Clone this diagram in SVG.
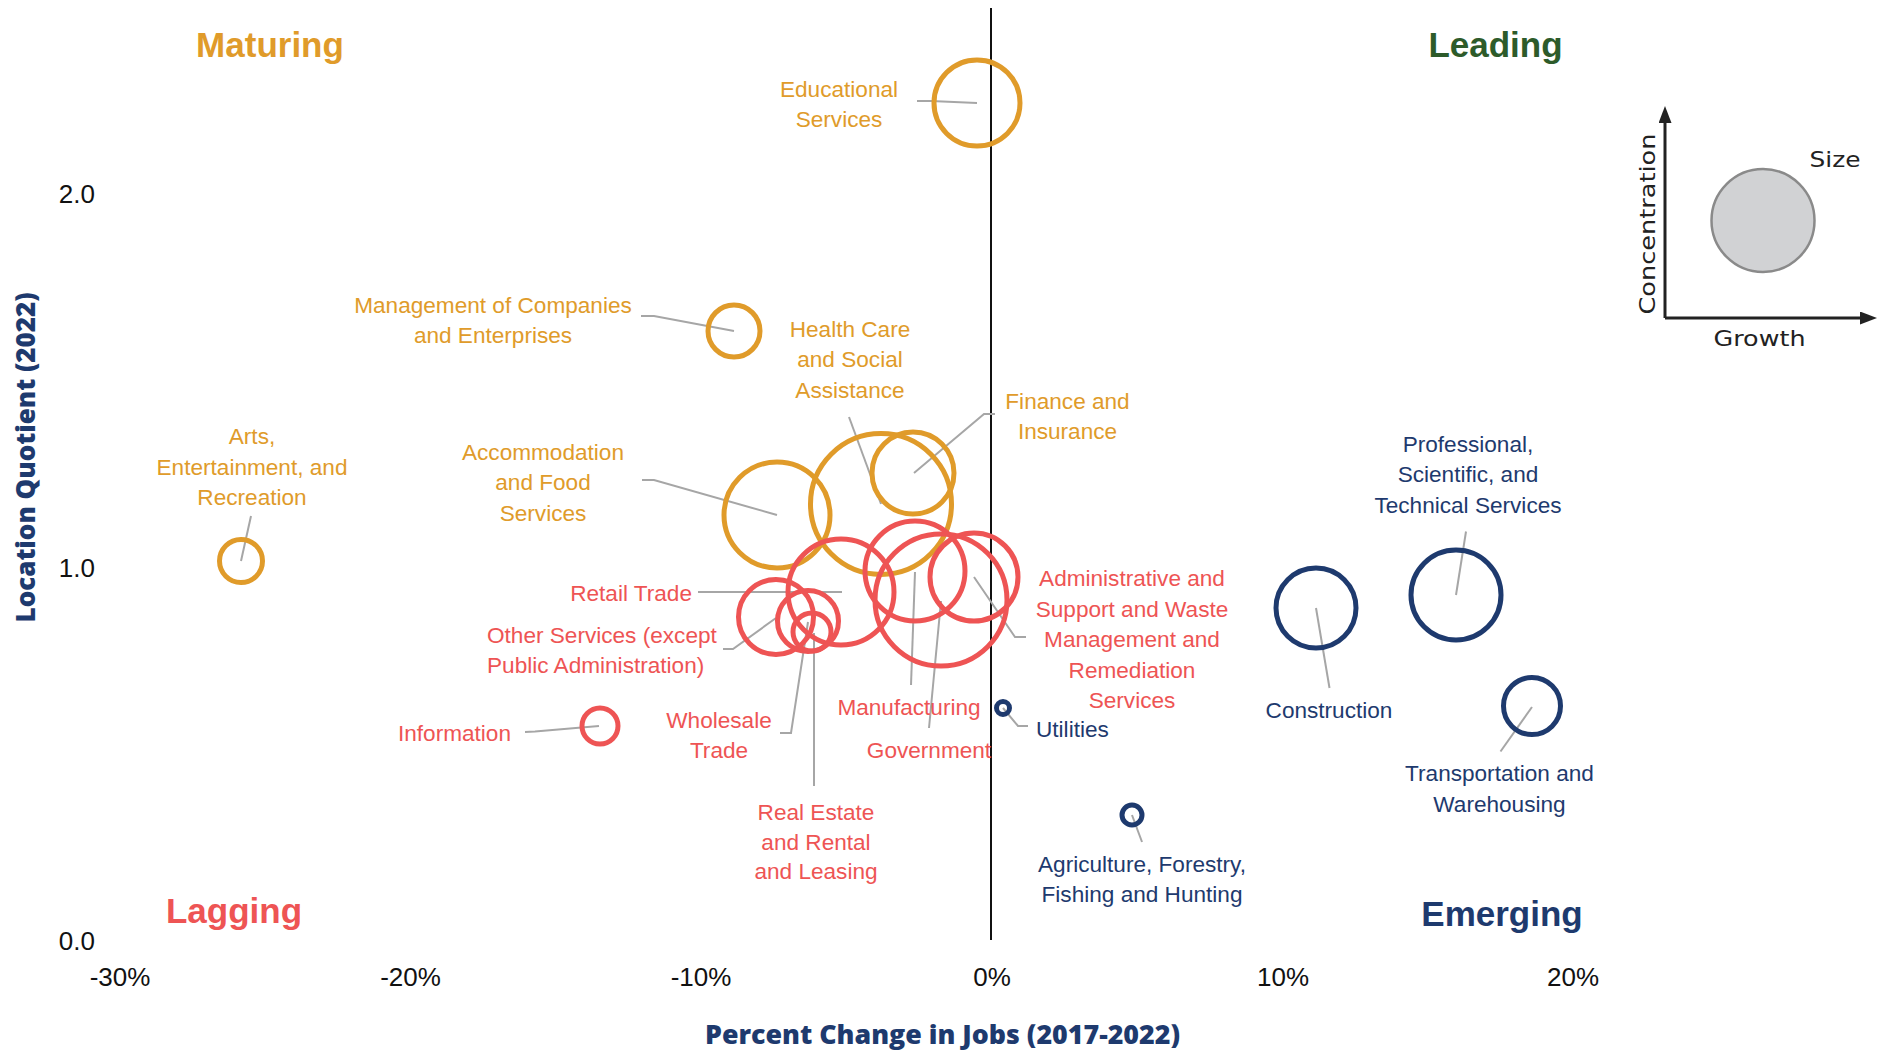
<svg xmlns="http://www.w3.org/2000/svg" width="1885" height="1050" viewBox="0 0 1885 1050">
<style>
.lbl{font-family:"Liberation Sans",Arial,sans-serif;font-size:22.6px}
.o{fill:#E09B2A}.r{fill:#EE5454}.b{fill:#1E3A6E}.g{fill:#2D5B2A}
.bub{fill:none;stroke-width:5}
.so{stroke:#E09B2A}.sr{stroke:#EE5454}.sb{stroke:#1E3A6E}
.lead{fill:none;stroke:#A6A6A6;stroke-width:2}
.quad{font-family:"Liberation Sans",Arial,sans-serif;font-size:35px;font-weight:bold}
.tick{font-family:"Liberation Sans",Arial,sans-serif;font-size:26px;fill:#111}
.atitle{font-family:"Open Sans","DejaVu Sans",sans-serif;font-weight:800;font-size:26px;fill:#1E3A6E}
.leg{font-family:"DejaVu Sans","Liberation Sans",sans-serif;font-size:22px;fill:#222}
</style>
<defs>
<marker id="ah" markerUnits="userSpaceOnUse" viewBox="0 0 17 13" markerWidth="17" markerHeight="13" refX="0" refY="6.5" orient="auto">
<path d="M0,0 L17,6.5 L0,13 z" fill="#222"/>
</marker>
</defs>
<rect width="1885" height="1050" fill="#fff"/>

<g id="axes">
<line x1="991" y1="8" x2="991" y2="940" stroke="#111" stroke-width="2"/>
<text class="tick" text-anchor="end" x="95" y="203">2.0</text>
<text class="tick" text-anchor="end" x="95" y="576.5">1.0</text>
<text class="tick" text-anchor="end" x="95" y="949.5">0.0</text>
<text class="tick" text-anchor="middle" x="120" y="986">-30%</text>
<text class="tick" text-anchor="middle" x="410.5" y="986">-20%</text>
<text class="tick" text-anchor="middle" x="701" y="986">-10%</text>
<text class="tick" text-anchor="middle" x="992" y="986">0%</text>
<text class="tick" text-anchor="middle" x="1283" y="986">10%</text>
<text class="tick" text-anchor="middle" x="1573" y="986">20%</text>
<text class="atitle" x="705" y="1044" textLength="475" lengthAdjust="spacingAndGlyphs">Percent Change in Jobs (2017-2022)</text>
<text class="atitle" transform="translate(35,622.5) rotate(-90)" x="0" y="0" textLength="330" lengthAdjust="spacingAndGlyphs">Location Quotient (2022)</text>
</g>

<g id="quadrants">
<text class="quad o" text-anchor="middle" x="270" y="57">Maturing</text>
<text class="quad g" text-anchor="middle" x="1495.5" y="57">Leading</text>
<text class="quad r" text-anchor="middle" x="234" y="923">Lagging</text>
<text class="quad b" text-anchor="middle" x="1502" y="925.5">Emerging</text>
</g>

<g id="legend">
<line x1="1665" y1="318" x2="1665" y2="123" stroke="#222" stroke-width="3" marker-end="url(#ah)"/>
<line x1="1665" y1="318" x2="1860" y2="318" stroke="#222" stroke-width="3" marker-end="url(#ah)"/>
<circle cx="1763" cy="220.5" r="51.5" fill="#D1D2D4" stroke="#8A8A8A" stroke-width="2.5"/>
<text class="leg" x="1809.5" y="167" textLength="51" lengthAdjust="spacingAndGlyphs">Size</text>
<text class="leg" x="1713.5" y="345.5" textLength="92" lengthAdjust="spacingAndGlyphs">Growth</text>
<text class="leg" transform="translate(1654.5,314.5) rotate(-90)" x="0" y="0" textLength="181" lengthAdjust="spacingAndGlyphs">Concentration</text>
</g>

<g id="connectors">
<polyline class="lead" points="917,101 931,101 977,103"/>
<polyline class="lead" points="641,316 654,316 734,331"/>
<polyline class="lead" points="642,480 654,480 777,515"/>
<line class="lead" x1="251" y1="516" x2="241" y2="561"/>
<line class="lead" x1="849" y1="417" x2="881" y2="504"/>
<polyline class="lead" points="995,414 984,414 914,473"/>
<line class="lead" x1="698" y1="592" x2="842" y2="592"/>
<polyline class="lead" points="723,649 733,649 776,618"/>
<polyline class="lead" points="525,732 535,731.5 599,726"/>
<polyline class="lead" points="780,733 791,733 808,622"/>
<line class="lead" x1="814" y1="786" x2="814" y2="633"/>
<line class="lead" x1="915" y1="572" x2="911" y2="685"/>
<line class="lead" x1="941" y1="601" x2="929" y2="728"/>
<polyline class="lead" points="974,577 1015,637 1026,637"/>
<polyline class="lead" points="1003,708 1018,726 1028,726"/>
<line class="lead" x1="1132" y1="815" x2="1142" y2="842"/>
<line class="lead" x1="1316" y1="608" x2="1329.5" y2="688"/>
<line class="lead" x1="1456" y1="595" x2="1466" y2="531.5"/>
<line class="lead" x1="1532" y1="707" x2="1500.5" y2="751.5"/>
</g>

<g id="educational-services">
<circle class="bub so" cx="977" cy="103" r="43"/>
<text class="lbl o" text-anchor="middle"><tspan x="839" y="96.5">Educational</tspan><tspan x="839" y="127">Services</tspan></text>
</g>
<g id="management-of-companies">
<circle class="bub so" cx="734" cy="331" r="26"/>
<text class="lbl o" text-anchor="middle"><tspan x="493" y="313">Management of Companies</tspan><tspan x="493" y="342.5">and Enterprises</tspan></text>
</g>
<g id="arts-entertainment">
<circle class="bub so" cx="241" cy="561" r="21.5"/>
<text class="lbl o" text-anchor="middle"><tspan x="252" y="444">Arts,</tspan><tspan x="252" y="474.5">Entertainment, and</tspan><tspan x="252" y="505">Recreation</tspan></text>
</g>
<g id="accommodation-food">
<circle class="bub so" cx="777" cy="515" r="53"/>
<text class="lbl o" text-anchor="middle"><tspan x="543" y="459.5">Accommodation</tspan><tspan x="543" y="490">and Food</tspan><tspan x="543" y="520.5">Services</tspan></text>
</g>
<g id="health-care">
<circle class="bub so" cx="881" cy="504" r="70.5"/>
<text class="lbl o" text-anchor="middle"><tspan x="850" y="337">Health Care</tspan><tspan x="850" y="367">and Social</tspan><tspan x="850" y="397.5">Assistance</tspan></text>
</g>
<g id="finance-insurance">
<circle class="bub so" cx="913" cy="473" r="41"/>
<text class="lbl o" text-anchor="middle"><tspan x="1067.5" y="408.5">Finance and</tspan><tspan x="1067.5" y="438.5">Insurance</tspan></text>
</g>
<g id="retail-trade">
<circle class="bub sr" cx="841" cy="592" r="53"/>
<text class="lbl r" text-anchor="end" x="692" y="600.5">Retail Trade</text>
</g>
<g id="other-services">
<circle class="bub sr" cx="776" cy="617" r="37.5"/>
<text class="lbl r"><tspan x="487" y="643.3">Other Services (except</tspan><tspan x="487" y="672.7">Public Administration)</tspan></text>
</g>
<g id="wholesale-trade">
<circle class="bub sr" cx="808" cy="621" r="30.5"/>
<text class="lbl r" text-anchor="middle"><tspan x="719" y="728.3">Wholesale</tspan><tspan x="719" y="758.3">Trade</tspan></text>
</g>
<g id="real-estate">
<circle class="bub sr" cx="812" cy="632" r="19"/>
<text class="lbl r" text-anchor="middle"><tspan x="816" y="820">Real Estate</tspan><tspan x="816" y="849.5">and Rental</tspan><tspan x="816" y="879">and Leasing</tspan></text>
</g>
<g id="information">
<circle class="bub sr" cx="600" cy="726" r="18"/>
<text class="lbl r" text-anchor="end" x="511" y="741.3">Information</text>
</g>
<g id="manufacturing">
<circle class="bub sr" cx="915" cy="571" r="50"/>
<text class="lbl r" text-anchor="middle" x="909" y="715">Manufacturing</text>
</g>
<g id="government">
<circle class="bub sr" cx="941" cy="600" r="66"/>
<text class="lbl r" text-anchor="middle" x="929" y="758.3">Government</text>
</g>
<g id="administrative-support">
<circle class="bub sr" cx="974" cy="577" r="44"/>
<text class="lbl r" text-anchor="middle"><tspan x="1132" y="586">Administrative and</tspan><tspan x="1132" y="616.5">Support and Waste</tspan><tspan x="1132" y="647">Management and</tspan><tspan x="1132" y="677.5">Remediation</tspan><tspan x="1132" y="708">Services</tspan></text>
</g>
<g id="utilities">
<circle class="bub sb" cx="1003" cy="708" r="6.5"/>
<text class="lbl b" x="1036" y="736.8">Utilities</text>
</g>
<g id="agriculture">
<circle class="bub sb" cx="1132" cy="815" r="10"/>
<text class="lbl b" text-anchor="middle"><tspan x="1142" y="872">Agriculture, Forestry,</tspan><tspan x="1142" y="902">Fishing and Hunting</tspan></text>
</g>
<g id="construction">
<circle class="bub sb" cx="1316" cy="608" r="40"/>
<text class="lbl b" text-anchor="middle" x="1329" y="717.5">Construction</text>
</g>
<g id="professional-scientific">
<circle class="bub sb" cx="1456" cy="595" r="45"/>
<text class="lbl b" text-anchor="middle"><tspan x="1468" y="452">Professional,</tspan><tspan x="1468" y="482.3">Scientific, and</tspan><tspan x="1468" y="512.6">Technical Services</tspan></text>
</g>
<g id="transportation-warehousing">
<circle class="bub sb" cx="1532" cy="706" r="28.5"/>
<text class="lbl b" text-anchor="middle"><tspan x="1499.5" y="781.3">Transportation and</tspan><tspan x="1499.5" y="811.5">Warehousing</tspan></text>
</g>
</svg>
